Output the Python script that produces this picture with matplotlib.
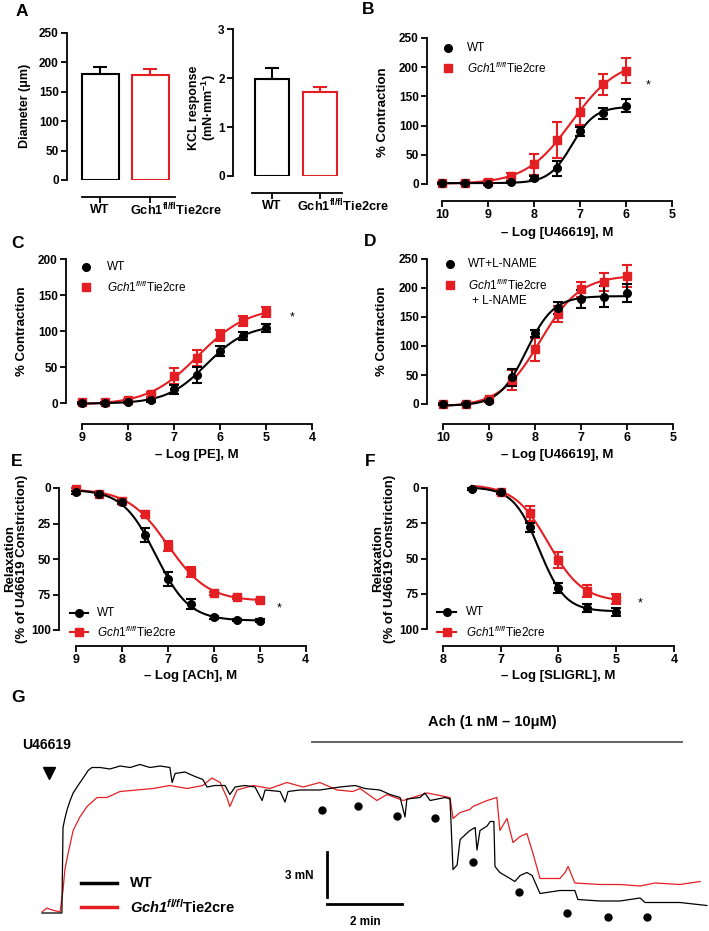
import numpy as np
import matplotlib
matplotlib.use('Agg')
import matplotlib.pyplot as plt
from matplotlib.lines import Line2D

plt.rcParams['font.family'] = ['Liberation Sans', 'DejaVu Sans']
plt.rcParams['mathtext.fontset'] = 'custom'
plt.rcParams['mathtext.rm'] = 'Liberation Sans'
plt.rcParams['mathtext.it'] = 'Liberation Sans:italic'
plt.rcParams['mathtext.bf'] = 'Liberation Sans:bold'
plt.rcParams['mathtext.bfit'] = 'Liberation Sans:italic:bold'

RED = '#e41f23'

# ---- data ----
# A: vessel diameter and KCL response
groups = ['WT', 'Gch1$^{\\mathbf{fl/fl}}$Tie2cre']
diam_mean = [180, 178]
diam_err = [12.5, 10]
kcl_mean = [1.98, 1.72]
kcl_err = [0.22, 0.10]

# B: U46619 contraction
B_x = [10, 9.5, 9, 8.5, 8, 7.5, 7, 6.5, 6]
B_wt = [1, 1, 0, 3, 10, 27, 90, 121, 134]
B_wt_err = [1, 1, 1, 2, 3, 13, 8, 9, 11]
B_ko = [2, 2, 4, 14, 34, 75, 124, 171, 194]
B_ko_err = [2, 2, 2, 4, 18, 31, 23, 18, 21]

# C: PE contraction
C_x = [9, 8.5, 8, 7.5, 7, 6.5, 6, 5.5, 5]
C_wt = [0, 0, 1, 4, 19, 39, 72, 93, 104]
C_wt_err = [1, 1, 1, 2, 6, 11, 7, 5, 6]
C_ko = [1, 1, 4, 12, 38, 62, 94, 114, 126]
C_ko_err = [1, 1, 2, 3, 11, 11, 8, 7, 7]

# D: U46619 contraction + L-NAME
D_x = [10, 9.5, 9, 8.5, 8, 7.5, 7, 6.5, 6]
D_wt = [0, 0, 5, 46, 122, 165, 181, 185, 191]
D_wt_err = [1, 1, 2, 15, 6, 10, 15, 18, 16]
D_ko = [0, 0, 8, 41, 94, 155, 198, 210, 221]
D_ko_err = [1, 1, 2, 17, 20, 14, 13, 16, 19]

# E: ACh relaxation
E_x = [9, 8.5, 8, 7.5, 7, 6.5, 6, 5.5, 5]
E_wt = [3, 4, 10, 33, 64, 82, 91, 93, 93.5]
E_wt_err = [1, 1, 1.5, 5, 5, 3.5, 1, 1, 1]
E_ko = [1, 4, 9, 18, 41, 59, 74, 77, 79]
E_ko_err = [1, 1, 1.5, 2, 3.5, 3.5, 1, 1, 1]

# F: SLIGRL relaxation
F_x_wt = [7.5, 7, 6.5, 6, 5.5, 5]
F_wt = [0.7, 3, 28, 71, 85, 88]
F_wt_err = [0.5, 1, 3, 3.5, 3, 3]
F_x_ko = [7, 6.5, 6, 5.5, 5]
F_ko = [2.6, 18, 51, 73, 79]
F_ko_err = [1, 5.3, 5.5, 4.4, 3.5]

# G: isometric tension traces (time in min, tension in mN)
trace_wt = [(0, 0), (0.53, 0), (0.56, 5.7), (0.61, 6.3), (0.67, 6.9), (0.75, 7.5), (0.83, 8.0),
            (0.96, 8.5), (1.07, 8.9), (1.23, 9.5), (1.33, 9.7), (1.55, 9.7), (1.81, 9.6), (2.08, 9.8),
            (2.35, 9.7), (2.61, 9.9), (2.88, 9.7), (3.15, 9.8), (3.41, 9.7), (3.47, 8.7), (3.55, 9.3),
            (3.81, 9.4), (4.08, 9.1), (4.29, 8.9), (4.40, 8.4), (4.61, 8.5), (4.88, 8.5), (5.01, 7.9),
            (5.15, 8.4), (5.41, 8.5), (5.68, 8.4), (5.87, 7.5), (5.95, 8.2), (6.35, 8.1), (6.48, 7.4),
            (6.56, 8.1), (6.88, 8.2), (7.41, 8.2), (7.95, 8.4), (8.35, 8.5), (8.61, 8.3), (9.01, 8.2),
            (9.28, 7.9), (9.55, 7.7), (9.68, 6.4), (9.73, 7.6), (10.08, 7.7), (10.21, 8.0), (10.35, 7.5),
            (10.75, 7.7), (10.88, 7.6), (10.96, 2.9), (11.07, 3.2), (11.15, 4.9), (11.28, 5.2),
            (11.41, 5.5), (11.55, 5.7), (11.60, 4.2), (11.68, 5.5), (11.87, 5.8), (11.95, 6.1),
            (12.05, 6.1), (12.08, 3.1), (12.21, 2.7), (12.48, 2.3), (12.61, 2.1), (12.75, 2.5),
            (12.93, 2.7), (13.07, 2.5), (13.28, 1.3), (13.81, 1.5), (14.21, 1.5), (14.29, 0.9),
            (14.88, 0.8), (15.41, 0.8), (15.95, 1.0), (16.08, 0.7), (17.01, 0.7), (17.73, 0.5)]
trace_ko = [(0, 0.07), (0.13, 0.33), (0.27, 0.2), (0.48, 0.07), (0.56, 1.5), (0.61, 2.9), (0.69, 3.9),
            (0.83, 5.5), (1.01, 6.4), (1.20, 7.1), (1.47, 7.7), (1.73, 7.7), (2.08, 8.1), (2.53, 8.2),
            (2.96, 8.3), (3.41, 8.5), (3.87, 8.3), (4.29, 8.5), (4.53, 9.0), (4.75, 8.7), (4.93, 7.7),
            (5.01, 7.1), (5.20, 8.2), (5.63, 8.5), (6.08, 8.3), (6.53, 8.7), (6.96, 8.4), (7.41, 8.7),
            (7.87, 8.2), (8.29, 8.1), (8.48, 8.3), (8.93, 7.5), (9.20, 7.9), (9.63, 7.5), (10.27, 8.0),
            (10.88, 7.7), (10.96, 6.3), (11.15, 6.7), (11.41, 6.9), (11.49, 7.1), (11.87, 7.5),
            (12.13, 7.7), (12.21, 5.5), (12.40, 6.3), (12.56, 4.7), (12.75, 5.1), (12.93, 5.3),
            (13.09, 4.0), (13.28, 2.3), (13.81, 2.3), (13.95, 2.7), (14.03, 3.1), (14.21, 2.0),
            (14.88, 1.9), (15.41, 1.9), (15.95, 1.8), (16.35, 2.0), (17.01, 1.9), (17.55, 2.1)]
ach_dose_t = [7.47, 8.43, 9.47, 10.48, 11.49, 12.72, 14.0, 15.09, 16.13]
ach_dose_f = [6.87, 7.13, 6.47, 6.33, 3.4, 1.4, 0.0, -0.27, -0.27]

W, H = 709, 931
fig = plt.figure(figsize=(W / 100, H / 100), dpi=100)


def add_ax(l, t, r, b):
    return fig.add_axes([l / W, 1 - b / H, (r - l) / W, (b - t) / H])


def ftxt(x, y, s, **kw):
    kw.setdefault('va', 'center')
    fig.text(x / W, 1 - y / H, s, **kw)


def fmark(x, y, **kw):
    fig.add_artist(Line2D([x / W], [1 - y / H], **kw))


def fline(x0, x1, y, **kw):
    fig.add_artist(Line2D([x0 / W, x1 / W], [1 - y / H, 1 - y / H], **kw))


def style(ax, offset):
    for s in ['top', 'right']:
        ax.spines[s].set_visible(False)
    for s in ['left', 'bottom']:
        ax.spines[s].set_linewidth(1.3)
    ax.spines['bottom'].set_position(('outward', offset))
    ax.tick_params(width=1.3, length=4, pad=2)
    ax.tick_params(axis='y', labelsize=8.5)
    ax.tick_params(axis='x', labelsize=9)
    for lab in ax.get_xticklabels() + ax.get_yticklabels():
        lab.set_fontweight('bold')


def fit_curve(x, y, x_from=None):
    # least-squares sigmoid fit: grid over midpoint and slope, linear in bottom/span
    x = np.asarray(x, float)
    y = np.asarray(y, float)
    best = None
    for p in np.linspace(x.min() - 1, x.max() + 1, 161):
        for h in np.linspace(0.4, 3.0, 40):
            s = 1 / (1 + 10 ** ((x - p) * h))
            A = np.column_stack([np.ones_like(s), s])
            coef = np.linalg.lstsq(A, y, rcond=None)[0]
            sse = np.sum((A @ coef - y) ** 2)
            if best is None or sse < best[0]:
                best = (sse, p, h, coef)
    _, p, h, coef = best
    top = x.max() if x_from is None else x_from
    xx = np.linspace(x.min(), top, 200)
    return xx, coef[0] + coef[1] / (1 + 10 ** ((xx - p) * h))


def curve_panel(ax, xs_wt, wt, wt_err, xs_ko, ko, ko_err, x_from=None):
    for xs, y, e, col, mk, ms in [(xs_ko, ko, ko_err, RED, 's', 6),
                                  (xs_wt, wt, wt_err, 'k', 'o', 5.5)]:
        xc, yc = fit_curve(xs, y, x_from)
        ax.plot(xc, yc, color=col, lw=1.5, clip_on=False)
        ax.errorbar(xs, y, yerr=e, fmt=mk, color=col, ms=ms, capsize=3.5,
                    elinewidth=1.5, capthick=1.5, clip_on=False)


def bar_panel(ax, means, errs, width):
    ax.bar([0, 1], means, width=width, color='white', edgecolor=['k', RED], linewidth=1.5)
    for i, col in enumerate(['k', RED]):
        ax.errorbar([i], [means[i]], yerr=[[0], [errs[i]]], fmt='none', ecolor=col,
                    capsize=5, elinewidth=1.5, capthick=1.5)
    ax.set_xticks([0, 1])
    ax.set_xticklabels([])


# ---- Panel A ----
axA1 = add_ax(67, 33, 180, 180)
bar_panel(axA1, diam_mean, diam_err, 0.74)
axA1.set_xlim(-0.66, 1.6)
axA1.set_ylim(0, 250)
axA1.set_yticks([0, 50, 100, 150, 200, 250])
style(axA1, 12.2)
axA1.spines['bottom'].set_bounds(-0.36, 1.5)
ftxt(100, 210, groups[0], ha='center', fontsize=9, fontweight='bold')
ftxt(130, 210, groups[1], ha='left', fontsize=9.2, fontweight='bold')
ftxt(25, 106, 'Diameter (μm)', rotation=90, ha='center', fontsize=9, fontweight='bold')

axA2 = add_ax(233, 29, 345, 176)
bar_panel(axA2, kcl_mean, kcl_err, 0.7)
axA2.set_xlim(-0.81, 1.52)
axA2.set_ylim(0, 3)
axA2.set_yticks([0, 1, 2, 3])
style(axA2, 12.2)
axA2.spines['bottom'].set_bounds(-0.42, 1.46)
ftxt(272, 206, groups[0], ha='center', fontsize=9, fontweight='bold')
ftxt(297, 206, groups[1], ha='left', fontsize=9.2, fontweight='bold')
ftxt(203, 108, 'KCL response\n(mN·mm$^{\\mathbf{-1}}$)', rotation=90, ha='center',
     fontsize=9, fontweight='bold', linespacing=1.0)

# ---- Panel B ----
axB = add_ax(427, 38, 680, 184)
curve_panel(axB, B_x, B_wt, B_wt_err, B_x, B_ko, B_ko_err)
axB.set_xlim(10.326, 4.826)
axB.set_ylim(0, 250)
axB.set_xticks([10, 9, 8, 7, 6, 5])
axB.set_yticks([0, 50, 100, 150, 200, 250])
style(axB, 12.2)
axB.spines['bottom'].set_bounds(10, 5)
axB.text(5.52, 169, '*', fontsize=9, ha='center', va='center')
ftxt(383, 112, '% Contraction', rotation=90, ha='center', fontsize=9.5, fontweight='bold')
ftxt(557, 233, '– Log [U46619], M', ha='center', fontsize=9.5, fontweight='bold')

# ---- Panel C ----
axC = add_ax(66, 259, 320, 403)
curve_panel(axC, C_x, C_wt, C_wt_err, C_x, C_ko, C_ko_err)
axC.set_xlim(9.348, 3.826)
axC.set_ylim(0, 200)
axC.set_xticks([9, 8, 7, 6, 5, 4])
axC.set_yticks([0, 50, 100, 150, 200])
style(axC, 15)
axC.spines['bottom'].set_bounds(9, 4)
axC.text(4.43, 119, '*', fontsize=9, ha='center', va='center')
ftxt(22, 331, '% Contraction', rotation=90, ha='center', fontsize=9.5, fontweight='bold')
ftxt(197, 455, '– Log [PE], M', ha='center', fontsize=9.5, fontweight='bold')

# ---- Panel D ----
axD = add_ax(427, 259, 680, 404)
curve_panel(axD, D_x, D_wt, D_wt_err, D_x, D_ko, D_ko_err)
axD.set_xlim(10.348, 4.848)
axD.set_ylim(0, 250)
axD.set_xticks([10, 9, 8, 7, 6, 5])
axD.set_yticks([0, 50, 100, 150, 200, 250])
style(axD, 14.4)
axD.spines['bottom'].set_bounds(10, 5)
ftxt(382, 331, '% Contraction', rotation=90, ha='center', fontsize=9.5, fontweight='bold')
ftxt(557, 455, '– Log [U46619], M', ha='center', fontsize=9.5, fontweight='bold')

# ---- Panel E ----
axE = add_ax(59, 488, 315, 630)
curve_panel(axE, E_x, E_wt, E_wt_err, E_x, E_ko, E_ko_err)
axE.set_xlim(9.37, 3.80)
axE.set_ylim(100, 0)
axE.set_xticks([9, 8, 7, 6, 5, 4])
axE.set_yticks([0, 25, 50, 75, 100])
style(axE, 11.5)
axE.spines['bottom'].set_bounds(9, 4)
axE.text(4.57, 85, '*', fontsize=9, ha='center', va='center')
ftxt(16, 559, 'Relaxation\n(% of U46619 Constriction)', rotation=90, ha='center',
     fontsize=9.5, fontweight='bold', linespacing=1.0)
ftxt(191, 676, '– Log [ACh], M', ha='center', fontsize=9.5, fontweight='bold')

# ---- Panel F ----
axF = add_ax(427, 488, 680, 629)
curve_panel(axF, F_x_wt, F_wt, F_wt_err, F_x_ko, F_ko, F_ko_err, x_from=7.5)
axF.set_xlim(8.277, 3.896)
axF.set_ylim(100, 0)
axF.set_xticks([8, 7, 6, 5, 4])
axF.set_yticks([0, 25, 50, 75, 100])
style(axF, 12.2)
axF.spines['bottom'].set_bounds(8, 4)
axF.text(4.59, 82, '*', fontsize=9, ha='center', va='center')
ftxt(384, 559, 'Relaxation\n(% of U46619 Constriction)', rotation=90, ha='center',
     fontsize=9.5, fontweight='bold', linespacing=1.0)
ftxt(558, 676, '– Log [SLIGRL], M', ha='center', fontsize=9.5, fontweight='bold')

# ---- legends ----
ko_label = '$\\mathit{Gch1}^{\\mathit{fl/fl}}$Tie2cre'
for (mx, y1, y2, tx, lab1, lab2) in [(448, 48, 68, 467, 'WT', ko_label),
                                     (86, 267, 287, 107, 'WT', ko_label),
                                     (450, 264, 285, 468, 'WT+L-NAME', ko_label)]:
    fmark(mx, y1, marker='o', color='k', ms=5.5, ls='none')
    fmark(mx, y2, marker='s', color=RED, ms=6, ls='none')
    ftxt(tx, y1, lab1, fontsize=8.5)
    ftxt(tx, y2, lab2, fontsize=8.5)
ftxt(472, 301, '+ L-NAME', fontsize=8.5)

for (x0, x1, mx, y1, y2, tx) in [(70, 88, 79, 613, 632, 97), (437, 456, 447, 612, 632, 466)]:
    fline(x0, x1, y1, color='k', lw=1.5)
    fmark(mx, y1, marker='o', color='k', ms=5.5, ls='none')
    fline(x0, x1, y2, color=RED, lw=1.5)
    fmark(mx, y2, marker='s', color=RED, ms=6, ls='none')
    ftxt(tx, y1, 'WT', fontsize=8.5)
    ftxt(tx, y2, ko_label, fontsize=8.5)

# ---- Panel G ----
axG = add_ax(20, 700, 709, 931)
axG.set_xlim(-0.587, 17.787)
axG.set_ylim(-1.2, 14.2)
axG.axis('off')
t_ko, f_ko = zip(*trace_ko)
t_wt, f_wt = zip(*trace_wt)
axG.plot(t_ko, f_ko, color=RED, lw=0.9)
axG.plot(t_wt, f_wt, color='k', lw=0.9)
axG.plot(ach_dose_t, ach_dose_f, 'o', color='k', ms=5)
axG.plot([7.2, 17.07], [11.4, 11.4], color='#555555', lw=1.3)
axG.text(12.0, 12.73, 'Ach (1 nM – 10μM)', ha='center', va='center', fontsize=10.5,
         fontweight='bold')
axG.text(-0.53, 11.2, 'U46619', ha='left', va='center', fontsize=10, fontweight='bold')
axG.plot([0.19], [9.33], 'v', color='k', ms=8)
axG.plot([7.6, 7.6], [1.07, 4.07], color='k', lw=2)
axG.plot([7.6, 9.6], [0.6, 0.6], color='k', lw=2)
axG.text(7.23, 2.47, '3 mN', ha='right', va='center', fontsize=8.5, fontweight='bold')
axG.text(8.61, -0.6, '2 min', ha='center', va='center', fontsize=8.5, fontweight='bold')
axG.plot([1.04, 2.0], [2.0, 2.0], color='k', lw=2.5)
axG.plot([1.04, 2.0], [0.4, 0.4], color=RED, lw=2.5)
axG.text(2.35, 2.0, 'WT', ha='left', va='center', fontsize=10.5, fontweight='bold')
axG.text(2.35, 0.4, '$\\mathbfit{Gch1}^{\\mathbfit{fl/fl}}$Tie2cre', ha='left', va='center',
         fontsize=10.5, fontweight='bold')

# ---- panel letters ----
for lab, x, y in [('A', 22, 12), ('B', 368, 9), ('C', 17, 243), ('D', 370, 242),
                  ('E', 17, 462), ('F', 370, 462), ('G', 18, 698)]:
    ftxt(x, y, lab, fontsize=12.5, fontweight='bold', ha='center')

fig.savefig('out.png', dpi=100)
